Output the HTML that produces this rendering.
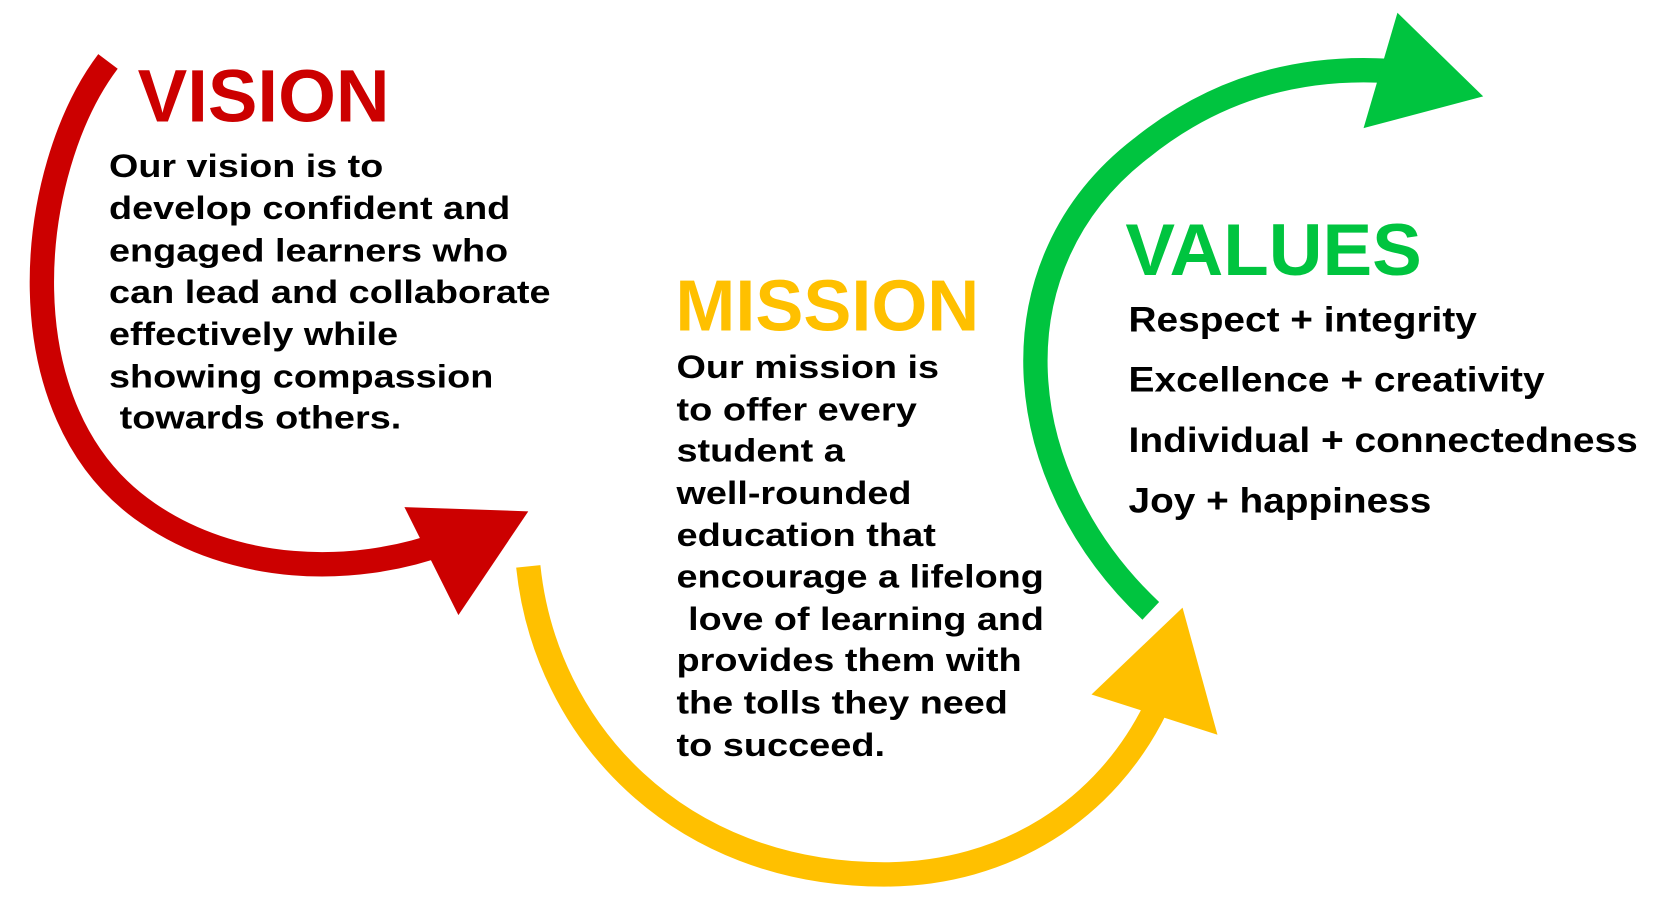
<!DOCTYPE html>
<html><head><meta charset="utf-8"><style>
html,body{margin:0;padding:0;background:#fff;}
svg{display:block;}
text{font-family:"Liberation Sans",Arial,sans-serif;font-weight:bold;}
</style></head><body>
<svg width="1660" height="910" viewBox="0 0 1568 859.6" preserveAspectRatio="none" xmlns="http://www.w3.org/2000/svg">
<rect width="1568" height="860" fill="#fff"/>
<path d="M102,58 C 25,160 0,390 140,485 C 220,540 330,546 422,512" fill="none" stroke="#CC0000" stroke-width="23"/>
<polygon points="382,479 499,483 433,581" fill="#CC0000"/>
<path d="M499,535 C 515,690 640,826 835,826 C 950,826 1045,765 1092,668" fill="none" stroke="#FFC000" stroke-width="23"/>
<polygon points="1031,656 1117,574 1150,694" fill="#FFC000"/>
<path d="M1087,577 C 952,450 935,250 1078,140 C 1150,82 1230,62 1312,67" fill="none" stroke="#00C43F" stroke-width="23"/>
<polygon points="1320,12 1401,91 1288,121" fill="#00C43F"/>

<text x="130" y="115" font-size="70" fill="#CC0000" textLength="238" lengthAdjust="spacingAndGlyphs">VISION</text>
<g font-size="31" fill="#000">
<text x="103" y="167" textLength="259" lengthAdjust="spacingAndGlyphs">Our vision is to</text>
<text x="103" y="207" textLength="379" lengthAdjust="spacingAndGlyphs">develop confident and</text>
<text x="103" y="247" textLength="377" lengthAdjust="spacingAndGlyphs">engaged learners who</text>
<text x="103" y="286" textLength="417" lengthAdjust="spacingAndGlyphs">can lead and collaborate</text>
<text x="103" y="326" textLength="273" lengthAdjust="spacingAndGlyphs">effectively while</text>
<text x="103" y="366" textLength="363" lengthAdjust="spacingAndGlyphs">showing compassion</text>
<text x="113" y="405" textLength="266" lengthAdjust="spacingAndGlyphs">towards others.</text>
</g>

<text x="638" y="312" font-size="68" fill="#FFC000" textLength="287" lengthAdjust="spacingAndGlyphs">MISSION</text>
<g font-size="31" fill="#000">
<text x="639" y="357" textLength="248" lengthAdjust="spacingAndGlyphs">Our mission is</text>
<text x="639" y="397" textLength="227" lengthAdjust="spacingAndGlyphs">to offer every</text>
<text x="639" y="436" textLength="159" lengthAdjust="spacingAndGlyphs">student a</text>
<text x="639" y="476" textLength="222" lengthAdjust="spacingAndGlyphs">well-rounded</text>
<text x="639" y="516" textLength="245" lengthAdjust="spacingAndGlyphs">education that</text>
<text x="639" y="555" textLength="347" lengthAdjust="spacingAndGlyphs">encourage a lifelong</text>
<text x="650" y="595" textLength="336" lengthAdjust="spacingAndGlyphs">love of learning and</text>
<text x="639" y="634" textLength="326" lengthAdjust="spacingAndGlyphs">provides them with</text>
<text x="639" y="674" textLength="313" lengthAdjust="spacingAndGlyphs">the tolls they need</text>
<text x="639" y="714" textLength="197" lengthAdjust="spacingAndGlyphs">to succeed.</text>
</g>

<text x="1063" y="260" font-size="69" fill="#00C43F" textLength="280" lengthAdjust="spacingAndGlyphs">VALUES</text>
<g font-size="33" fill="#000">
<text x="1066" y="313" textLength="329" lengthAdjust="spacingAndGlyphs">Respect + integrity</text>
<text x="1066" y="370" textLength="393" lengthAdjust="spacingAndGlyphs">Excellence + creativity</text>
<text x="1066" y="427" textLength="481" lengthAdjust="spacingAndGlyphs">Individual + connectedness</text>
<text x="1066" y="484" textLength="286" lengthAdjust="spacingAndGlyphs">Joy + happiness</text>
</g>
</svg>
</body></html>
